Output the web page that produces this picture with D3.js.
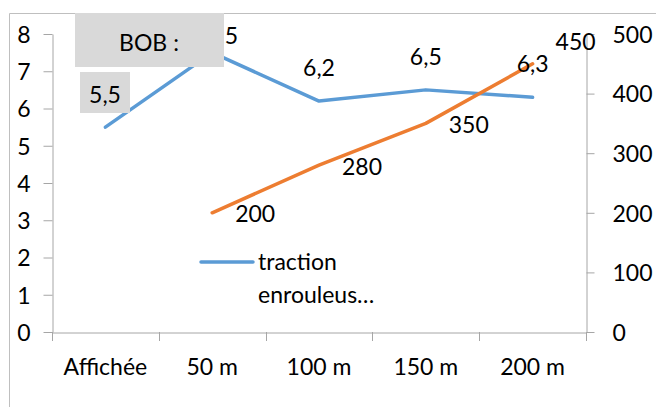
<!DOCTYPE html>
<html><head><meta charset="utf-8">
<script src="https://cdn.jsdelivr.net/npm/d3@7/dist/d3.min.js"></script>
<style>body{margin:0;background:#fff}svg{display:block;font-family:Lato,sans-serif}</style>
</head><body>
<script>
const categories = ["Affichée","50 m","100 m","150 m","200 m"];
const tractionValues = [5.5,7.5,6.2,6.5,6.3];
const tractionLabels = ["5,5","7,5","6,2","6,5","6,3"];
const enrouleurValues = [null,200,280,350,450];
const enrouleurLabels = [null,"200","280","350","450"];
const leftTicks = [0,1,2,3,4,5,6,7,8];
const rightTicks = [0,100,200,300,400,500];
const title = "BOB :";
const legendLabel = ["traction","enrouleus…"];

const W=656,H=407;
const FONT="Lato";
const svg=d3.select("body").append("svg").attr("width",W).attr("height",H);
const fs=23;
// chart border
svg.append("path").attr("d","M9.5,407 V13.5 H656").attr("fill","none").attr("stroke","#bfbfbf").attr("stroke-width",1);

const x=d3.scaleBand().domain(categories).range([52,586]);
const yL=d3.scaleLinear().domain([0,8]).range([332,34]);
const yR=d3.scaleLinear().domain([0,500]).range([332,34]);
const axisCol="#a6a6a6";

// x axis
const gx=svg.append("g").attr("transform","translate(0,332.5)")
 .call(d3.axisBottom(x).tickSize(0).tickPadding(0));
gx.select(".domain").attr("stroke",axisCol);
gx.selectAll(".tick text").attr("y",42).attr("dy",null).attr("font-size",fs).attr("fill","#000").attr("font-family",FONT);
const bounds=categories.map(c=>x(c)).concat([x.range()[1]]);
svg.append("g").selectAll("line").data(bounds).join("line")
 .attr("x1",d=>Math.round(d)+0.5).attr("x2",d=>Math.round(d)+0.5).attr("y1",332).attr("y2",341)
 .attr("stroke",axisCol);

// left axis
const gl=svg.append("g").attr("transform","translate(52.5,0)")
 .call(d3.axisLeft(yL).tickValues(leftTicks).tickSize(9).tickPadding(13).tickSizeOuter(0));
gl.selectAll("path,line").attr("stroke",axisCol);
gl.selectAll(".tick text").attr("font-size",fs).attr("fill","#000").attr("font-family",FONT).attr("dy","0.36em");
// right axis
const gr=svg.append("g").attr("transform","translate(586.5,0)")
 .call(d3.axisRight(yR).tickValues(rightTicks).tickSize(8).tickPadding(18).tickSizeOuter(0));
gr.selectAll("path,line").attr("stroke",axisCol);
gr.selectAll(".tick text").attr("font-size",fs).attr("fill","#000").attr("font-family",FONT).attr("dy","0.36em");

const cx=c=>x(c)+x.bandwidth()/2;
// lines
const blue="#5b9bd5",orange="#ed7d31";
svg.append("path").datum(categories.map((c,i)=>[cx(c),yL(tractionValues[i])]))
 .attr("d",d3.line()).attr("fill","none").attr("stroke",blue).attr("stroke-width",3.5).attr("stroke-linejoin","round").attr("stroke-linecap","round");
const oData=categories.map((c,i)=>enrouleurValues[i]==null?null:[cx(c),yR(enrouleurValues[i])]).filter(d=>d);
svg.append("path").datum(oData)
 .attr("d",d3.line()).attr("fill","none").attr("stroke",orange).attr("stroke-width",3.5).attr("stroke-linejoin","round").attr("stroke-linecap","round");

// blue labels
const bl=svg.append("g").attr("font-size",fs).attr("text-anchor","middle");
categories.forEach((c,i)=>{
  const px=cx(c), py=yL(tractionValues[i]);
  let tx=px, ty;
  if(i===0){
    bl.append("rect").attr("x",80).attr("y",72).attr("width",50).attr("height",41).attr("fill","#d9d9d9");
    tx=105; ty=py-24;
  } else if(i===1){ tx=px+10; ty=py-9; }
  else { tx=px; ty=py-25; }
  bl.append("text").attr("x",tx).attr("y",ty).text(tractionLabels[i]);
});
// orange labels
const ol=svg.append("g").attr("font-size",fs).attr("text-anchor","middle");
categories.forEach((c,i)=>{
  if(enrouleurValues[i]==null) return;
  const px=cx(c), py=yR(enrouleurValues[i]);
  let tx=px+43, ty=py+9.5;
  if(i===4){ tx=px+43; ty=py-14; }
  ol.append("text").attr("x",tx).attr("y",ty).text(enrouleurLabels[i]);
});

// title box
svg.append("rect").attr("x",75).attr("y",13).attr("width",149).attr("height",54).attr("fill","#d9d9d9");
svg.append("text").attr("x",149).attr("y",51).attr("text-anchor","middle").attr("font-size",fs).text(title);

// legend
svg.append("line").attr("x1",201).attr("x2",253).attr("y1",262).attr("y2",262).attr("stroke",blue).attr("stroke-width",3.5).attr("stroke-linecap","round");
svg.append("text").attr("x",258).attr("y",270).attr("font-size",fs).text(legendLabel[0]);
svg.append("text").attr("x",258).attr("y",303).attr("font-size",fs).text(legendLabel[1]);
</script>
</body></html>
